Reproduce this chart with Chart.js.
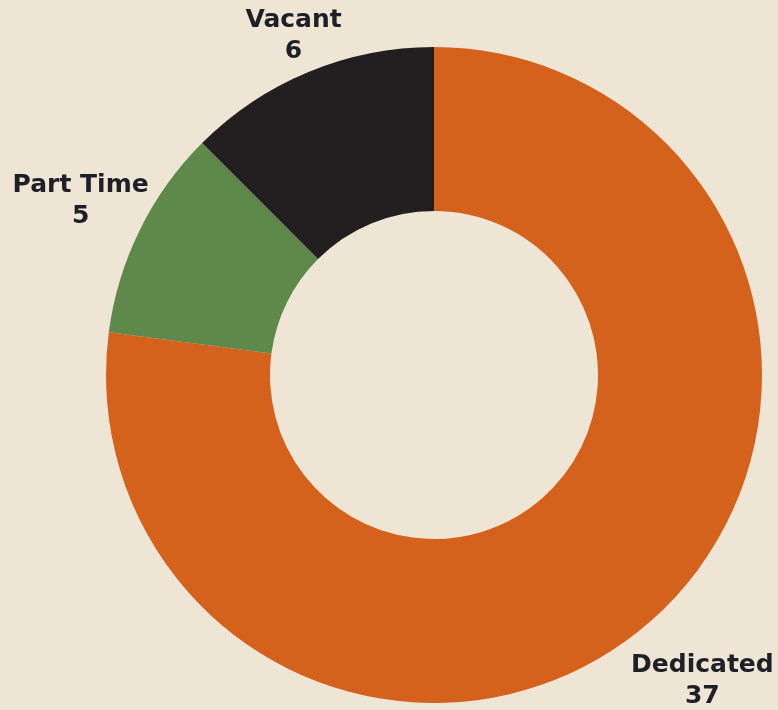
<!DOCTYPE html>
<html>
<head>
<meta charset="utf-8">
<title>Staffing</title>
<script src="https://cdn.jsdelivr.net/npm/chart.js@4.4.1/dist/chart.umd.min.js"></script>
<style>
  html, body { margin: 0; padding: 0; background: #efe5d5; }
  #wrap { width: 778px; height: 710px; }
</style>
</head>
<body>
<div id="wrap"><canvas id="chart" width="778" height="710"></canvas></div>
<script>
// Position breakdown
var categories = ['Dedicated', 'Part Time', 'Vacant'];
var counts = [37, 5, 6];
var sliceColors = ['#d4621c', '#5e894b', '#231f20'];

var LABEL_FONT = 'bold 25px "DejaVu Sans", sans-serif';
var LINE_GAP = 31;

// Draws "name / value" outside each slice along its middle angle.
// radii: distance of each label block's centre beyond the ring edge
var outerLabels = {
    id: 'outerLabels',
    afterDatasetsDraw: function(chart, args, opts) {
        var ctx = chart.ctx;
        var meta = chart.getDatasetMeta(0);
        ctx.save();
        ctx.font = LABEL_FONT;
        ctx.fillStyle = '#1d2026';
        ctx.textAlign = 'center';
        ctx.textBaseline = 'middle';
        meta.data.forEach(function(arc, i) {
            var p = arc.getProps(['x', 'y', 'startAngle', 'endAngle', 'outerRadius'], true);
            var mid = (p.startAngle + p.endAngle) / 2;
            var r = p.outerRadius + opts.gaps[i];
            var x = p.x + Math.cos(mid) * r;
            var y = p.y + Math.sin(mid) * r;
            ctx.fillText(categories[i], x, y - LINE_GAP / 2);
            ctx.fillText(String(counts[i]), x, y + LINE_GAP / 2);
        });
        ctx.restore();
    }
};

new Chart(document.getElementById('chart'), {
    type: 'doughnut',
    data: {
        labels: categories,
        datasets: [{
            data: counts,
            backgroundColor: sliceColors,
            borderWidth: 0
        }]
    },
    options: {
        responsive: false,
        animation: false,
        cutout: '50%',
        layout: { padding: { left: 106, right: 16, top: 47, bottom: 7 } },
        plugins: {
            legend: { display: false },
            tooltip: { enabled: false },
            outerLabels: { gaps: [79, 66, 39] }
        }
    },
    plugins: [outerLabels]
});
</script>
</body>
</html>
